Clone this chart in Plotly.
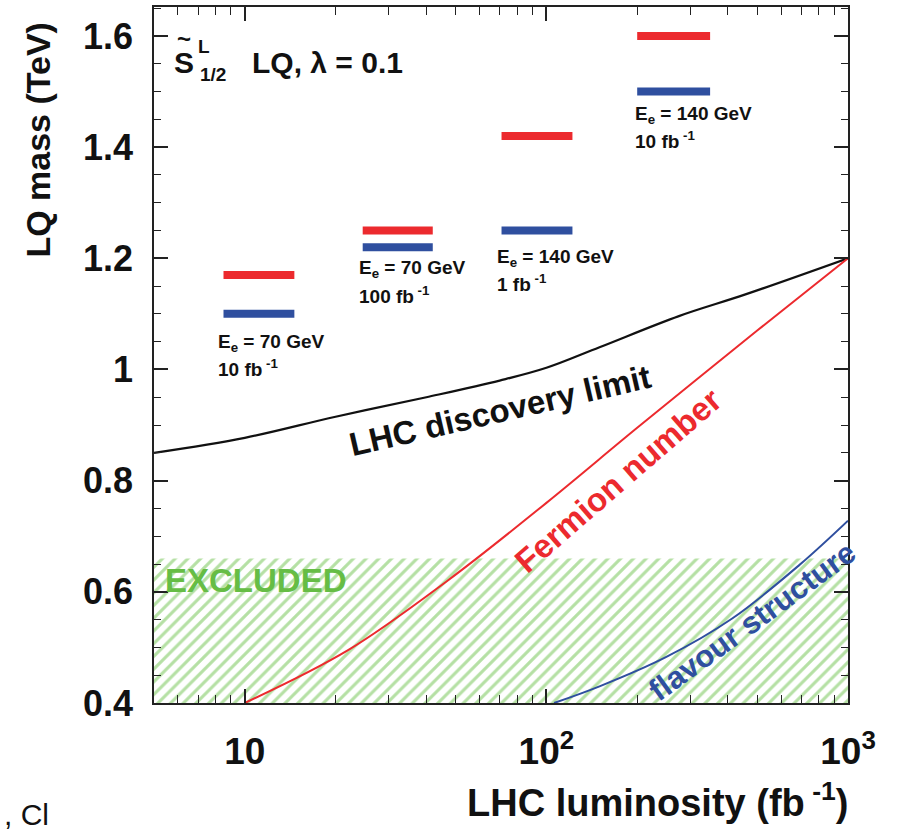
import plotly.graph_objects as go
import math

# ---------------- data ----------------
lhc_lumi = [5, 10, 20, 40, 70, 100, 150, 275, 457, 1000]
lhc_mass = [0.85, 0.877, 0.915, 0.95, 0.98, 1.003, 1.04, 1.096, 1.135, 1.2]

fermion_lumi = [10, 22, 47, 100, 200, 500, 1000]
fermion_mass = [0.40, 0.495, 0.62, 0.76, 0.895, 1.07, 1.2]

flavour_lumi = [106, 150, 249, 413, 689, 1000]
flavour_mass = [0.40, 0.43, 0.4825, 0.552, 0.648, 0.728]

excluded_lumi = [5, 1000]
excluded_top = 0.66
excluded_bottom = 0.4

bar_lumi_lo = [8.5, 24.6, 71, 200]
bar_lumi_hi = [14.6, 42, 122, 349]
bar_red_mass = [1.17, 1.25, 1.42, 1.60]
bar_blue_mass = [1.10, 1.22, 1.25, 1.50]
bar_label_line1 = ["E<sub>e</sub> = 70 GeV", "E<sub>e</sub> = 70 GeV",
                   "E<sub>e</sub> = 140 GeV", "E<sub>e</sub> = 140 GeV"]
bar_label_line2 = ["10 fb<sup> -1</sup>", "100 fb<sup> -1</sup>",
                   "1 fb<sup> -1</sup>", "10 fb<sup> -1</sup>"]

y_tickvals = [0.4, 0.6, 0.8, 1.0, 1.2, 1.4, 1.6]
y_ticktext = ["0.4", "0.6", "0.8", "1", "1.2", "1.4", "1.6"]
x_tickvals = [10, 100, 1000]
x_ticktext = ["10", "10<sup>2</sup>", "10<sup>3</sup>"]
x_minor = [6, 7, 8, 9, 20, 30, 40, 50, 60, 70, 80, 90, 200, 300, 400, 500, 600, 700, 800, 900]

# ---------------- layout geometry ----------------
W, H = 908, 835
L, R, T, B = 154, 848, 5, 703


def px(x):
    return (x - L) / (R - L)


def py(y):
    return (B - y) / (B - T)


FONT = "Liberation Sans, Arial, sans-serif"
RED = "#ec2a2e"
BLUE = "#2f4f9f"
GREEN = "#66bd45"

fig = go.Figure()

# excluded hatched region
fig.add_trace(go.Scatter(
    x=[excluded_lumi[0], excluded_lumi[1], excluded_lumi[1], excluded_lumi[0], excluded_lumi[0]],
    y=[excluded_bottom, excluded_bottom, excluded_top, excluded_top, excluded_bottom],
    mode="lines", line=dict(width=0), fill="toself", fillcolor="rgba(0,0,0,0)",
    fillpattern=dict(shape="/", fgcolor="#6cc24a", bgcolor="rgba(255,255,255,0)",
                     size=9, solidity=0.35),
    hoverinfo="skip", showlegend=False))

# curves
fig.add_trace(go.Scatter(x=lhc_lumi, y=lhc_mass, mode="lines", line_shape="spline",
                         line=dict(color="#111111", width=2.2), showlegend=False))
fig.add_trace(go.Scatter(x=fermion_lumi, y=fermion_mass, mode="lines", line_shape="spline",
                         line=dict(color=RED, width=2), showlegend=False))
fig.add_trace(go.Scatter(x=flavour_lumi, y=flavour_mass, mode="lines", line_shape="spline",
                         line=dict(color=BLUE, width=2), showlegend=False))

# bars
for i in range(len(bar_lumi_lo)):
    fig.add_trace(go.Scatter(x=[bar_lumi_lo[i], bar_lumi_hi[i]],
                             y=[bar_red_mass[i], bar_red_mass[i]], mode="lines",
                             line=dict(color=RED, width=8), showlegend=False))
    fig.add_trace(go.Scatter(x=[bar_lumi_lo[i], bar_lumi_hi[i]],
                             y=[bar_blue_mass[i], bar_blue_mass[i]], mode="lines",
                             line=dict(color=BLUE, width=8), showlegend=False))

annotations = []


def ann(text, x, y, size, color="#111111", xanchor="center", yanchor="middle",
        angle=0, weight="bold", family=FONT):
    annotations.append(dict(
        text=text, x=px(x), y=py(y), xref="paper", yref="paper",
        xanchor=xanchor, yanchor=yanchor, showarrow=False, textangle=angle,
        font=dict(family=family, size=size, color=color, weight=weight)))


# bar labels
label_pos = [(216, 342, 367), (357, 268, 294), (495, 257, 282), (633, 113, 138)]
for i, (lx, ly1, ly2) in enumerate(label_pos):
    ann(bar_label_line1[i], lx, ly1, 19, xanchor="left")
    ann(bar_label_line2[i], lx, ly2, 19, xanchor="left")

# curve labels
ann("LHC discovery limit", 500, 410, 33, angle=-13)
ann("Fermion number", 618, 480, 33, color=RED, angle=-41)
ann("flavour structure", 752, 621, 31, color=BLUE, angle=-36)
ann("EXCLUDED", 256, 580, 33, color=GREEN)

# model label
ann("S", 184, 61, 30, xanchor="center")
ann("~", 184, 37, 24, xanchor="center")
ann("L", 204, 45, 19, xanchor="center")
ann("1/2", 213, 73, 19, xanchor="center")
ann("LQ, λ = 0.1", 250, 61, 30, xanchor="left")

# axis titles
ann("LQ mass (TeV)", 38, 138, 34, angle=-90)
ann("LHC luminosity (fb<sup> -1</sup>)", 850, 800, 38, xanchor="right")
ann(", Cl", 2, 815, 30, xanchor="left", weight="normal")

fig.update_layout(
    width=W, height=H,
    margin=dict(l=L, r=W - R, t=T, b=H - B),
    paper_bgcolor="white", plot_bgcolor="white",
    showlegend=False,
    annotations=annotations,
    xaxis=dict(
        type="log", range=[math.log10(5), 3],
        showgrid=False, zeroline=False,
        showline=True, linecolor="#222222", linewidth=1.5, mirror="ticks",
        ticks="inside", ticklen=14, tickwidth=1.5, tickcolor="#222222",
        tickvals=x_tickvals, ticktext=x_ticktext,
        tickfont=dict(family=FONT, size=37, color="#111111", weight="bold"),
        ticklabelstandoff=15,
        minor=dict(tickvals=x_minor, ticks="inside", ticklen=8, tickwidth=1.2,
                   tickcolor="#222222", showgrid=False),
    ),
    yaxis=dict(
        range=[0.4, 1.652],
        showgrid=False, zeroline=False,
        showline=True, linecolor="#222222", linewidth=1.5, mirror="ticks",
        ticks="inside", ticklen=14, tickwidth=1.5, tickcolor="#222222",
        tickvals=y_tickvals, ticktext=y_ticktext,
        tickfont=dict(family=FONT, size=36, color="#111111", weight="bold"),
        ticklabelstandoff=12,
        minor=dict(dtick=0.05, ticks="inside", ticklen=7, tickwidth=1.2,
                   tickcolor="#222222", showgrid=False),
    ),
)

fig.write_html("out.html", config={"displayModeBar": False},
               post_script="document.body.style.margin='0';document.body.style.overflow='hidden';")
